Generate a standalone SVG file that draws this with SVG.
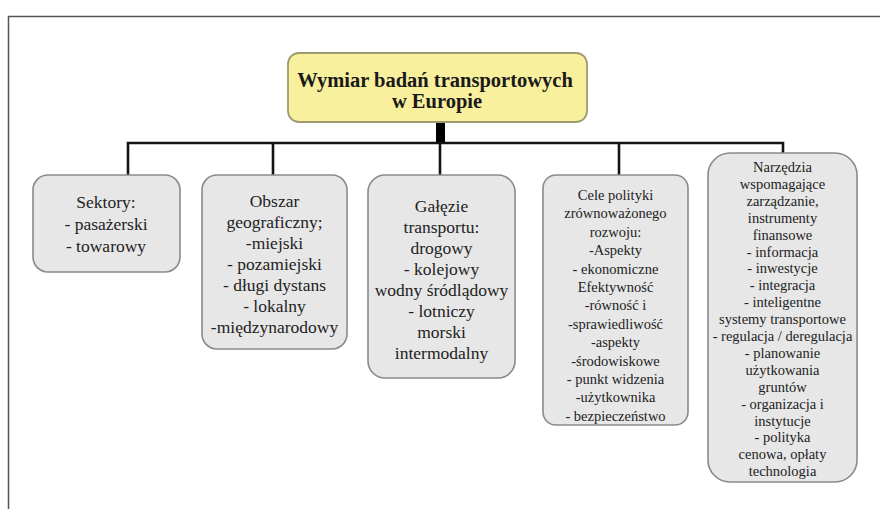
<svg xmlns="http://www.w3.org/2000/svg" width="880" height="509" viewBox="0 0 880 509">
<style>
.box{fill:#e7e7e7;stroke:#8a8a8a;stroke-width:1.6}
.root{fill:#f8f09c;stroke:#9e9b72;stroke-width:1.8}
text{fill:#222;text-anchor:middle}
.t1{font-size:17.5px}
.t2{font-size:14.5px}
.tr{font-size:20.5px;font-weight:bold;fill:#1a1a1a}
.c{stroke:#141414;stroke-width:2.6;fill:none}
</style>
<rect x="8.5" y="16.5" width="880" height="500" fill="#fff" stroke="#555" stroke-width="1.5"/>
<g id="connectors">
<rect x="436" y="121" width="9" height="23" fill="#000"/>
<path class="c" d="M128 175V143H783V153"/>
<path class="c" d="M273 143V175M440 143V175M619 143V175"/>
</g>
<g font-family="Liberation Serif, Tinos, Times New Roman, DejaVu Serif, serif">
<g id="root">
<rect class="root" x="288" y="53" width="299" height="69" rx="11"/>
<text class="tr" x="435" y="87">Wymiar badań transportowych</text>
<text class="tr" x="437" y="108">w Europie</text>
</g>
<g id="sektory">
<rect class="box" x="33" y="175" width="147" height="97" rx="15"/>
<text class="t1" x="106" y="208">Sektory:</text>
<text class="t1" x="106" y="230">-  pasażerski</text>
<text class="t1" x="106" y="252">-  towarowy</text>
</g>
<g id="obszar">
<rect class="box" x="202" y="175" width="145" height="174" rx="15"/>
<text class="t1" x="274.5" y="207">Obszar</text>
<text class="t1" x="274.5" y="228">geograficzny;</text>
<text class="t1" x="274.5" y="249">-miejski</text>
<text class="t1" x="274.5" y="270">- pozamiejski</text>
<text class="t1" x="274.5" y="291">- długi dystans</text>
<text class="t1" x="274.5" y="312">- lokalny</text>
<text class="t1" x="274.5" y="333">-międzynarodowy</text>
</g>
<g id="galezie">
<rect class="box" x="368" y="175" width="147" height="203" rx="17"/>
<text class="t1" x="441.5" y="212">Gałęzie</text>
<text class="t1" x="441.5" y="233">transportu:</text>
<text class="t1" x="441.5" y="254">drogowy</text>
<text class="t1" x="441.5" y="275">- kolejowy</text>
<text class="t1" x="441.5" y="296">wodny śródlądowy</text>
<text class="t1" x="441.5" y="317">- lotniczy</text>
<text class="t1" x="441.5" y="338">morski</text>
<text class="t1" x="441.5" y="359">intermodalny</text>
</g>
<g id="cele">
<rect class="box" x="543" y="175" width="145" height="250" rx="13"/>
<text class="t2" x="615.5" y="200">Cele polityki</text>
<text class="t2" x="615.5" y="218.4">zrównoważonego</text>
<text class="t2" x="615.5" y="236.8">rozwoju:</text>
<text class="t2" x="615.5" y="255.2">-Aspekty</text>
<text class="t2" x="615.5" y="273.6">- ekonomiczne</text>
<text class="t2" x="615.5" y="292">Efektywność</text>
<text class="t2" x="615.5" y="310.4">-równość i</text>
<text class="t2" x="615.5" y="328.8">-sprawiedliwość</text>
<text class="t2" x="615.5" y="347.2">-aspekty</text>
<text class="t2" x="615.5" y="365.6">-środowiskowe</text>
<text class="t2" x="615.5" y="384">- punkt widzenia</text>
<text class="t2" x="615.5" y="402.4">-użytkownika</text>
<text class="t2" x="615.5" y="420.8">- bezpieczeństwo</text>
</g>
<g id="narzedzia">
<rect class="box" x="708" y="153" width="149" height="329" rx="22"/>
<text class="t2" x="782.5" y="172">Narzędzia</text>
<text class="t2" x="782.5" y="188.9">wspomagające</text>
<text class="t2" x="782.5" y="205.8">zarządzanie,</text>
<text class="t2" x="782.5" y="222.7">instrumenty</text>
<text class="t2" x="782.5" y="239.6">finansowe</text>
<text class="t2" x="782.5" y="256.5">- informacja</text>
<text class="t2" x="782.5" y="273.4">- inwestycje</text>
<text class="t2" x="782.5" y="290.3">- integracja</text>
<text class="t2" x="782.5" y="307.2">- inteligentne</text>
<text class="t2" x="782.5" y="324.1">systemy transportowe</text>
<text class="t2" x="782.5" y="341">- regulacja / deregulacja</text>
<text class="t2" x="782.5" y="357.9">- planowanie</text>
<text class="t2" x="782.5" y="374.8">użytkowania</text>
<text class="t2" x="782.5" y="391.7">gruntów</text>
<text class="t2" x="782.5" y="408.6">- organizacja i</text>
<text class="t2" x="782.5" y="425.5">instytucje</text>
<text class="t2" x="782.5" y="442.4">- polityka</text>
<text class="t2" x="782.5" y="459.3">cenowa, opłaty</text>
<text class="t2" x="782.5" y="476.2">technologia</text>
</g>
</g>
</svg>
